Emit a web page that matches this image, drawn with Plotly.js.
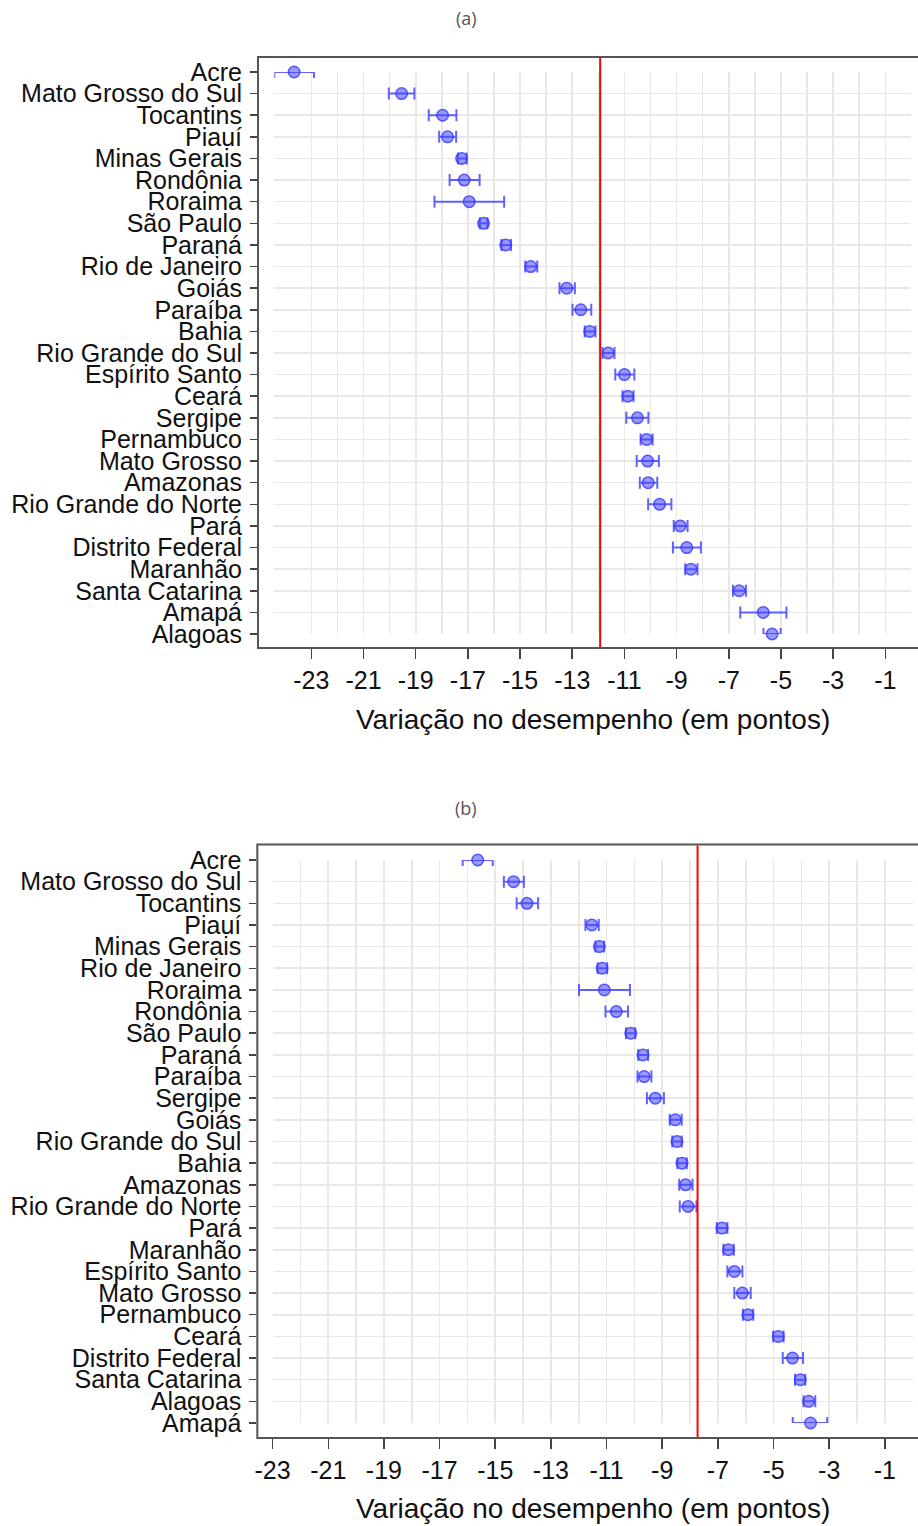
<!DOCTYPE html>
<html><head><meta charset="utf-8">
<script src="https://cdn.plot.ly/plotly-3.0.1.min.js"></script>
<style>html,body{margin:0;padding:0;background:#fff}</style>
</head><body><div id="chart" style="width:918px;height:1526px"></div>
<script>
// ---- Data: panel (a) ----
const statesA = ["Acre","Mato Grosso do Sul","Tocantins","Piauí","Minas Gerais","Rondônia","Roraima","São Paulo","Paraná","Rio de Janeiro","Goiás","Paraíba","Bahia","Rio Grande do Sul","Espírito Santo","Ceará","Sergipe","Pernambuco","Mato Grosso","Amazonas","Rio Grande do Norte","Pará","Distrito Federal","Maranhão","Santa Catarina","Amapá","Alagoas"];
const meanA = [-23.66,-19.54,-17.97,-17.78,-17.24,-17.14,-16.95,-16.40,-15.55,-14.59,-13.21,-12.67,-12.33,-11.62,-11.00,-10.87,-10.50,-10.15,-10.11,-10.09,-9.65,-8.86,-8.61,-8.45,-6.60,-5.68,-5.34];
const loA   = [-24.42,-20.03,-18.50,-18.10,-17.38,-17.70,-18.28,-16.54,-15.71,-14.80,-13.49,-12.99,-12.52,-11.84,-11.35,-11.07,-10.93,-10.38,-10.53,-10.41,-10.09,-9.11,-9.14,-8.67,-6.84,-6.56,-5.67];
const hiA   = [-22.90,-19.05,-17.44,-17.45,-17.05,-16.55,-15.61,-16.25,-15.35,-14.34,-12.90,-12.27,-12.11,-11.38,-10.62,-10.65,-10.08,-9.92,-9.68,-9.74,-9.20,-8.58,-8.07,-8.20,-6.34,-4.79,-5.01];
const refA = -11.93;

// ---- Data: panel (b) ----
const statesB = ["Acre","Mato Grosso do Sul","Tocantins","Piauí","Minas Gerais","Rio de Janeiro","Roraima","Rondônia","São Paulo","Paraná","Paraíba","Sergipe","Goiás","Rio Grande do Sul","Bahia","Amazonas","Rio Grande do Norte","Pará","Maranhão","Espírito Santo","Mato Grosso","Pernambuco","Ceará","Distrito Federal","Santa Catarina","Alagoas","Amapá"];
const meanB = [-15.63,-14.34,-13.86,-11.53,-11.26,-11.16,-11.08,-10.65,-10.13,-9.69,-9.65,-9.25,-8.53,-8.47,-8.29,-8.16,-8.07,-6.85,-6.62,-6.41,-6.12,-5.92,-4.83,-4.32,-4.04,-3.74,-3.67];
const loB   = [-16.17,-14.69,-14.23,-11.76,-11.40,-11.32,-11.99,-11.04,-10.30,-9.86,-9.89,-9.55,-8.73,-8.64,-8.45,-8.39,-8.37,-7.04,-6.80,-6.66,-6.41,-6.10,-5.01,-4.67,-4.23,-3.92,-4.31];
const hiB   = [-15.09,-13.97,-13.46,-11.28,-11.09,-10.98,-10.16,-10.23,-9.97,-9.51,-9.39,-8.94,-8.30,-8.30,-8.12,-7.91,-7.77,-6.66,-6.43,-6.12,-5.82,-5.73,-4.64,-3.94,-3.86,-3.50,-3.07];
const refB = -7.73;

// ---- Tick labels ----
const xTickVals = [-23,-21,-19,-17,-15,-13,-11,-9,-7,-5,-3,-1];
const xTickText = ["-23","-21","-19","-17","-15","-13","-11","-9","-7","-5","-3","-1"];
const xGridVals = [-23,-22,-21,-20,-19,-18,-17,-16,-15,-14,-13,-12,-11,-10,-9,-8,-7,-6,-5,-4,-3,-2,-1,0];
const panelTitles = ["(a)","(b)"];
const axisTitle = "Variação no desempenho (em pontos)";

// ---- Layout helpers (pixels -> paper) ----
const W = 918, H = 1526;
const px = v => v / W;
const py = v => 1 - v / H;

const FONT = "Arial, 'Liberation Sans', sans-serif";
const gridColor = "#e8e8e8";
const dotFill = "rgba(70,70,255,0.55)";
const dotLine = "rgba(55,55,255,0.8)";
const barColor = "rgba(70,70,255,0.85)";

// panel geometry in pixels: grid region (g) and frame (f)
const geo = {
  a: {gx: [274.3, 911.4], vx: [-24.42, 0], fx: [258, 918], gy: [72, 634], fy: [57, 648]},
  b: {gx: [272.6, 912.7], vx: [-23, 0], fx: [257.3, 918], gy: [860, 1423], fy: [844.5, 1438]}
};
function frameXRange(g) {
  const k = (g.vx[1] - g.vx[0]) / (g.gx[1] - g.gx[0]);
  return [g.vx[0] - (g.gx[0] - g.fx[0]) * k, g.vx[1] + (g.fx[1] - g.gx[1]) * k];
}
function frameYRange(g, n) {
  const k = (n - 1) / (g.gy[1] - g.gy[0]);
  return [(n - 1) + (g.fy[1] - g.gy[1]) * k, -(g.gy[0] - g.fy[0]) * k];
}

function mkTrace(states, mean, lo, hi, xa, ya) {
  return {
    type: "scatter", mode: "markers",
    x: mean, y: states, xaxis: xa, yaxis: ya,
    cliponaxis: false, hoverinfo: "skip",
    marker: {symbol: "circle", size: 11.5, color: dotFill, line: {color: dotLine, width: 1.5}},
    error_x: {
      type: "data", symmetric: false,
      array: hi.map((h, i) => h - mean[i]),
      arrayminus: mean.map((m, i) => m - lo[i]),
      color: barColor, thickness: 2, width: 6
    },
    showlegend: false
  };
}

// frame axes: ticks + labels, no grid
function frameX(g, anchor) {
  return {
    domain: [px(g.fx[0]), px(g.fx[1])], range: frameXRange(g), anchor: anchor,
    tickmode: "array", tickvals: xTickVals, ticktext: xTickText,
    ticks: "outside", ticklen: 10, tickwidth: 1.5, tickcolor: "#444",
    ticklabelstandoff: 0,
    showgrid: false, zeroline: false, showline: false, fixedrange: true,
    tickfont: {family: FONT, size: 25, color: "#111"}
  };
}
function frameY(g, states, anchor) {
  return {
    domain: [py(g.fy[1]), py(g.fy[0])], range: frameYRange(g, states.length), anchor: anchor,
    tickmode: "array", tickvals: states.map((s, i) => i), ticktext: states,
    ticks: "outside", ticklen: 7, tickwidth: 1.5, tickcolor: "#444",
    ticklabelstandoff: 3,
    showgrid: false, zeroline: false, showline: false, fixedrange: true,
    tickfont: {family: FONT, size: 25, color: "#111"}
  };
}
// grid axes: grid only, carry the data
function gridX(g, anchor) {
  return {
    domain: [px(g.gx[0]), px(g.gx[1])], range: g.vx, anchor: anchor,
    tickmode: "array", tickvals: xGridVals, showticklabels: false, ticks: "",
    showgrid: true, gridcolor: gridColor, gridwidth: 1.6,
    zeroline: false, showline: false, fixedrange: true
  };
}
function gridY(g, states, anchor) {
  return {
    domain: [py(g.gy[1]), py(g.gy[0])], type: "category", categoryorder: "array", categoryarray: states,
    range: [states.length - 1, 0], autorange: false, anchor: anchor,
    tickmode: "array", tickvals: states, showticklabels: false, ticks: "",
    showgrid: true, gridcolor: gridColor, gridwidth: 1.6,
    zeroline: false, showline: false, fixedrange: true
  };
}

const data = [
  mkTrace(statesA, meanA, loA, hiA, "x3", "y3"),
  mkTrace(statesB, meanB, loB, hiB, "x4", "y4")
];

const titleFont = {family: "'Open Sans', 'Noto Sans', sans-serif", size: 18, color: "#555"};
const axTitleFont = {family: FONT, size: 28, color: "#111"};

const layout = {
  width: W, height: H,
  margin: {l: 0, r: 0, t: 0, b: 0, pad: 0},
  paper_bgcolor: "#fff", plot_bgcolor: "rgba(0,0,0,0)",
  showlegend: false,
  xaxis: frameX(geo.a, "y"),
  yaxis: frameY(geo.a, statesA, "x"),
  xaxis2: frameX(geo.b, "y2"),
  yaxis2: frameY(geo.b, statesB, "x2"),
  xaxis3: gridX(geo.a, "y3"),
  yaxis3: gridY(geo.a, statesA, "x3"),
  xaxis4: gridX(geo.b, "y4"),
  yaxis4: gridY(geo.b, statesB, "x4"),
  shapes: [
    {type: "rect", xref: "paper", yref: "paper", x0: px(geo.a.fx[0]), x1: px(935), y0: py(geo.a.fy[1]), y1: py(geo.a.fy[0]),
     line: {color: "#555", width: 2}, fillcolor: "rgba(0,0,0,0)"},
    {type: "rect", xref: "paper", yref: "paper", x0: px(geo.b.fx[0]), x1: px(935), y0: py(geo.b.fy[1]), y1: py(geo.b.fy[0]),
     line: {color: "#555", width: 2}, fillcolor: "rgba(0,0,0,0)"},
    {type: "line", xref: "x", yref: "paper", x0: refA, x1: refA, y0: py(geo.a.fy[1] - 1), y1: py(geo.a.fy[0] + 1),
     line: {color: "#ff0000", width: 2}},
    {type: "line", xref: "x2", yref: "paper", x0: refB, x1: refB, y0: py(geo.b.fy[1] - 1), y1: py(geo.b.fy[0] + 1),
     line: {color: "#ff0000", width: 2}}
  ],
  annotations: [
    {text: panelTitles[0], xref: "paper", yref: "paper", x: px(466), y: py(18), xanchor: "center", yanchor: "middle",
     showarrow: false, font: titleFont},
    {text: panelTitles[1], xref: "paper", yref: "paper", x: px(466), y: py(808), xanchor: "center", yanchor: "middle",
     showarrow: false, font: titleFont},
    {text: axisTitle, xref: "paper", yref: "paper", x: px(593), y: py(720), xanchor: "center", yanchor: "middle",
     showarrow: false, font: axTitleFont},
    {text: axisTitle, xref: "paper", yref: "paper", x: px(593), y: py(1508), xanchor: "center", yanchor: "middle",
     showarrow: false, font: axTitleFont}
  ]
};

Plotly.newPlot("chart", data, layout, {displayModeBar: false, staticPlot: true});
</script>
</body></html>
